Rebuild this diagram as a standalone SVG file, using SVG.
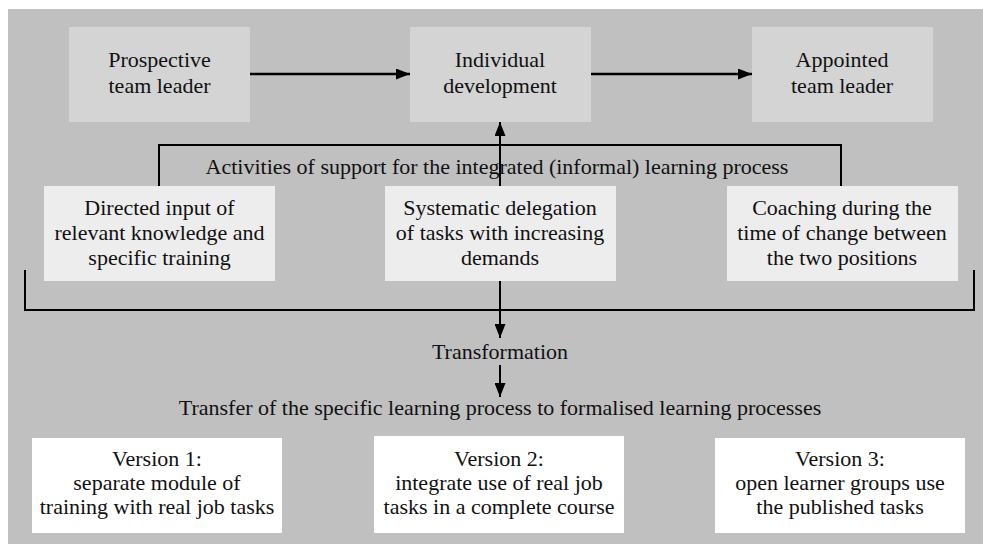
<svg xmlns="http://www.w3.org/2000/svg" width="983" height="544" viewBox="0 0 983 544">
<defs>
<style>
text{font-family:"Liberation Serif","Times New Roman",serif;font-size:22px;fill:#111;text-anchor:middle}
.top{fill:#d4d4d4}
.mid{fill:#ededed}
.ver{fill:#ffffff}
.ln{stroke:#000;stroke-width:2;fill:none}
.th{stroke-width:2.5}
</style>
<marker id="ah" viewBox="0 0 14 11" refX="14" refY="5.5" markerWidth="14" markerHeight="11" markerUnits="userSpaceOnUse" orient="auto">
<path d="M0,0 L14,5.5 L0,11 Z" fill="#000"/>
</marker>
</defs>
<rect x="8" y="9" width="975" height="535" fill="#c0c0c0"/>
<g id="prospective">
<rect class="top" x="69" y="27" width="181" height="95"/>
<text x="159.5" y="67">Prospective</text>
<text x="159.5" y="93">team leader</text>
</g>
<g id="individual">
<rect class="top" x="410" y="27" width="181" height="95"/>
<text x="500" y="67">Individual</text>
<text x="500" y="93">development</text>
</g>
<g id="appointed">
<rect class="top" x="752" y="27" width="181" height="95"/>
<text x="842" y="67">Appointed</text>
<text x="842" y="93">team leader</text>
</g>
<g id="activities-label">
<text x="497" y="174">Activities of support for the integrated (informal) learning process</text>
</g>
<g id="directed">
<rect class="mid" x="44" y="186" width="231" height="95"/>
<text x="159.5" y="215">Directed input of</text>
<text x="159.5" y="240">relevant knowledge and</text>
<text x="159.5" y="265">specific training</text>
</g>
<g id="systematic">
<rect class="mid" x="385" y="186" width="231" height="95"/>
<text x="500" y="215">Systematic delegation</text>
<text x="500" y="240">of tasks with increasing</text>
<text x="500" y="265">demands</text>
</g>
<g id="coaching">
<rect class="mid" x="727" y="186" width="231" height="95"/>
<text x="842" y="215">Coaching during the</text>
<text x="842" y="240">time of change between</text>
<text x="842" y="265">the two positions</text>
</g>
<g id="transformation">
<text x="500" y="359">Transformation</text>
</g>
<g id="transfer">
<text x="500" y="415">Transfer of the specific learning process to formalised learning processes</text>
</g>
<g id="version1">
<rect class="ver" x="32" y="438" width="250" height="95"/>
<text x="157" y="466">Version 1:</text>
<text x="157" y="490">separate module of</text>
<text x="157" y="514">training with real job tasks</text>
</g>
<g id="version2">
<rect class="ver" x="374" y="436" width="250" height="97"/>
<text x="499" y="466">Version 2:</text>
<text x="499" y="490">integrate use of real job</text>
<text x="499" y="514">tasks in a complete course</text>
</g>
<g id="version3">
<rect class="ver" x="715" y="438" width="250" height="95"/>
<text x="840" y="466">Version 3:</text>
<text x="840" y="490">open learner groups use</text>
<text x="840" y="514">the published tasks</text>
</g>
<g id="connectors">
<line class="ln th" x1="250" y1="74" x2="410" y2="74" marker-end="url(#ah)"/>
<line class="ln th" x1="591" y1="74" x2="752" y2="74" marker-end="url(#ah)"/>
<polyline class="ln" points="159,186 159,145 841,145 841,186"/>
<line class="ln" x1="500" y1="186" x2="500" y2="122" marker-end="url(#ah)"/>
<polyline class="ln" points="25,270 25,310 974,310 974,270"/>
<line class="ln" x1="500" y1="281" x2="500" y2="338" marker-end="url(#ah)"/>
<line class="ln" x1="500" y1="365" x2="500" y2="397" marker-end="url(#ah)"/>
</g>
</svg>
